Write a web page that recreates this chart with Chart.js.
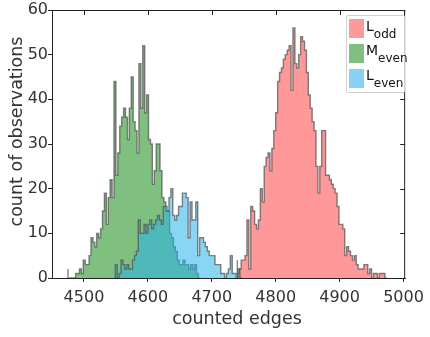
<!DOCTYPE html>
<html>
<head>
<meta charset="utf-8">
<script src="https://cdn.jsdelivr.net/npm/chart.js@4"></script>
<style>
  body { margin: 0; background: #fff; }
  #wrap { position: relative; width: 430px; height: 337px; }
  #legend {
    position: absolute; left: 346px; top: 15px; width: 57px; height: 76px;
    border: 1px solid #d0d0d0; border-radius: 2px; background: rgba(255,255,255,0.85);
    font-family: "DejaVu Sans", sans-serif; color: #111;
  }
  .sw { position: absolute; left: 2px; width: 15px; height: 19px; }
  .lab { position: absolute; left: 19px; font-size: 14px; line-height: 14px; white-space: nowrap; }
  .lab span { font-size: 12px; position: relative; top: 7px; }
</style>
</head>
<body>
<div id="wrap">
  <canvas id="histChart" width="430" height="337"></canvas>
  <div id="legend">
    <div class="sw" style="top:3px;background:rgb(255,153,153)"></div>
    <div class="lab" style="top:3px">L<span>odd</span></div>
    <div class="sw" style="top:28px;background:rgb(128,191,128)"></div>
    <div class="lab" style="top:27px">M<span>even</span></div>
    <div class="sw" style="top:53px;background:rgb(135,210,242)"></div>
    <div class="lab" style="top:52px">L<span>even</span></div>
  </div>
</div>
<script>
// histogram bins (3 edges wide), counts
const binWidth = 3;

const lOddStart = 4740;
const lOddCounts = [4, 1, 2, 4, 4, 5, 13, 2, 16, 15, 12, 11, 13, 20, 17, 25, 27, 28, 24, 29,
  33, 37, 44, 46, 47, 49, 50, 51, 52, 42, 56, 48, 47, 50, 54, 53, 51, 46, 41, 38,
  35, 33, 25, 19, 25, 33, 33, 23, 23, 22, 21, 20, 19, 16, 12, 12, 11, 5, 7, 6,
  5, 4, 5, 3, 2, 2, 2, 3, 3, 1, 2, 0, 1, 1, 0, 1, 1, 1];

const mEvenStart = 4475;
const mEvenCounts = [2, 0, 0, 0, 0, 1, 1, 2, 1, 4, 3, 3, 5, 9, 8, 7, 10, 9, 11, 15,
  19, 12, 18, 22, 18, 44, 23, 28, 34, 36, 38, 36, 31, 38, 45, 35, 33, 28, 48, 38,
  52, 37, 41, 31, 30, 21, 24, 30, 30, 24, 18, 17, 15, 15, 10, 9, 7, 6, 4, 3,
  3, 4, 3, 3, 2, 3, 2, 3, 1];

const lEvenStart = 4549;
const lEvenCounts = [1, 3, 0, 1, 4, 3, 2, 3, 2, 2, 4, 5, 6, 13, 10, 10, 12, 10, 12, 13,
  11, 12, 13, 14, 13, 12, 16, 16, 15, 18, 20, 14, 13, 14, 16, 16, 19, 19, 18, 9,
  17, 13, 13, 17, 5, 9, 9, 8, 7, 6, 5, 5, 5, 3, 3, 3, 1, 1, 0, 1,
  2, 5, 1, 1, 0, 2];

const xTicks = [4500, 4600, 4700, 4800, 4900, 5000];
const yTicks = [0, 10, 20, 30, 40, 50, 60];

// turn bins into step outline points
function toSteps(start, counts) {
  const pts = [{x: start, y: 0}];
  counts.forEach((c, i) => pts.push({x: start + i * binWidth, y: c}));
  pts.push({x: start + counts.length * binWidth, y: 0});
  return pts;
}

const textColor = '#333';
const font = '"DejaVu Sans", sans-serif';

// frame, inward top/right ticks, axis titles
const framePlugin = {
  id: 'frame',
  afterDraw(chart) {
    const {ctx, chartArea: a, scales} = chart;
    ctx.save();
    ctx.strokeStyle = '#222';
    ctx.lineWidth = 1;
    ctx.beginPath();
    ctx.moveTo(a.left, a.top + 0.5); ctx.lineTo(a.right, a.top + 0.5);
    ctx.moveTo(a.right - 0.5, a.top); ctx.lineTo(a.right - 0.5, a.bottom);
    xTicks.forEach(v => {
      const px = Math.round(scales.x.getPixelForValue(v)) + 0.5;
      ctx.moveTo(px, a.top); ctx.lineTo(px, a.top + 5);
    });
    yTicks.forEach(v => {
      const py = Math.round(scales.y.getPixelForValue(v)) + 0.5;
      ctx.moveTo(a.right, py); ctx.lineTo(a.right - 5, py);
    });
    ctx.stroke();

    ctx.fillStyle = textColor;
    ctx.font = '17.5px ' + font;
    ctx.textAlign = 'center';
    ctx.textBaseline = 'alphabetic';
    ctx.fillText('counted edges', 237, 324);
    ctx.translate(22, 131.5);
    ctx.rotate(-Math.PI / 2);
    ctx.fillText('count of observations', 0, 0);
    ctx.restore();
  }
};

const outline = 'rgba(80,80,80,0.7)';

const ctx = document.getElementById('histChart').getContext('2d');
new Chart(ctx, {
  type: 'line',
  data: {
    datasets: [
      {
        label: 'L_odd',
        data: toSteps(lOddStart, lOddCounts),
        stepped: 'after',
        fill: 'origin',
        backgroundColor: 'rgba(255,51,51,0.5)',
        borderColor: outline,
        borderWidth: 1.4,
        pointRadius: 0,
        order: 2
      },
      {
        label: 'M_even',
        data: toSteps(mEvenStart, mEvenCounts),
        stepped: 'after',
        fill: 'origin',
        backgroundColor: 'rgba(0,128,0,0.5)',
        borderColor: outline,
        borderWidth: 1.4,
        pointRadius: 0,
        order: 1
      },
      {
        label: 'L_even',
        data: toSteps(lEvenStart, lEvenCounts),
        stepped: 'after',
        fill: 'origin',
        backgroundColor: 'rgba(40,180,235,0.55)',
        borderColor: outline,
        borderWidth: 1.4,
        pointRadius: 0,
        order: 0
      }
    ]
  },
  options: {
    responsive: false,
    animation: false,
    devicePixelRatio: 1,
    layout: {padding: {top: 10, right: 22}},
    plugins: {legend: {display: false}, tooltip: {enabled: false}},
    scales: {
      x: {
        type: 'linear',
        min: 4450,
        max: 5002.5,
        afterFit: s => { s.height = 59; },
        afterBuildTicks: s => { s.ticks = xTicks.map(v => ({value: v})); },
        grid: {drawOnChartArea: false, drawTicks: true, tickLength: 4, color: '#222'},
        border: {display: true, color: '#222', width: 1},
        ticks: {color: textColor, font: {family: font, size: 16}, padding: 6, maxRotation: 0,
          callback: v => String(v)}
      },
      y: {
        min: 0,
        max: 60,
        afterFit: s => { s.width = 52; },
        afterBuildTicks: s => { s.ticks = yTicks.map(v => ({value: v})); },
        grid: {drawOnChartArea: false, drawTicks: true, tickLength: 4, color: '#222'},
        border: {display: true, color: '#222', width: 1},
        ticks: {color: textColor, font: {family: font, size: 16}, padding: 0,
          callback: v => String(v)}
      }
    }
  },
  plugins: [framePlugin]
});
</script>
</body>
</html>
